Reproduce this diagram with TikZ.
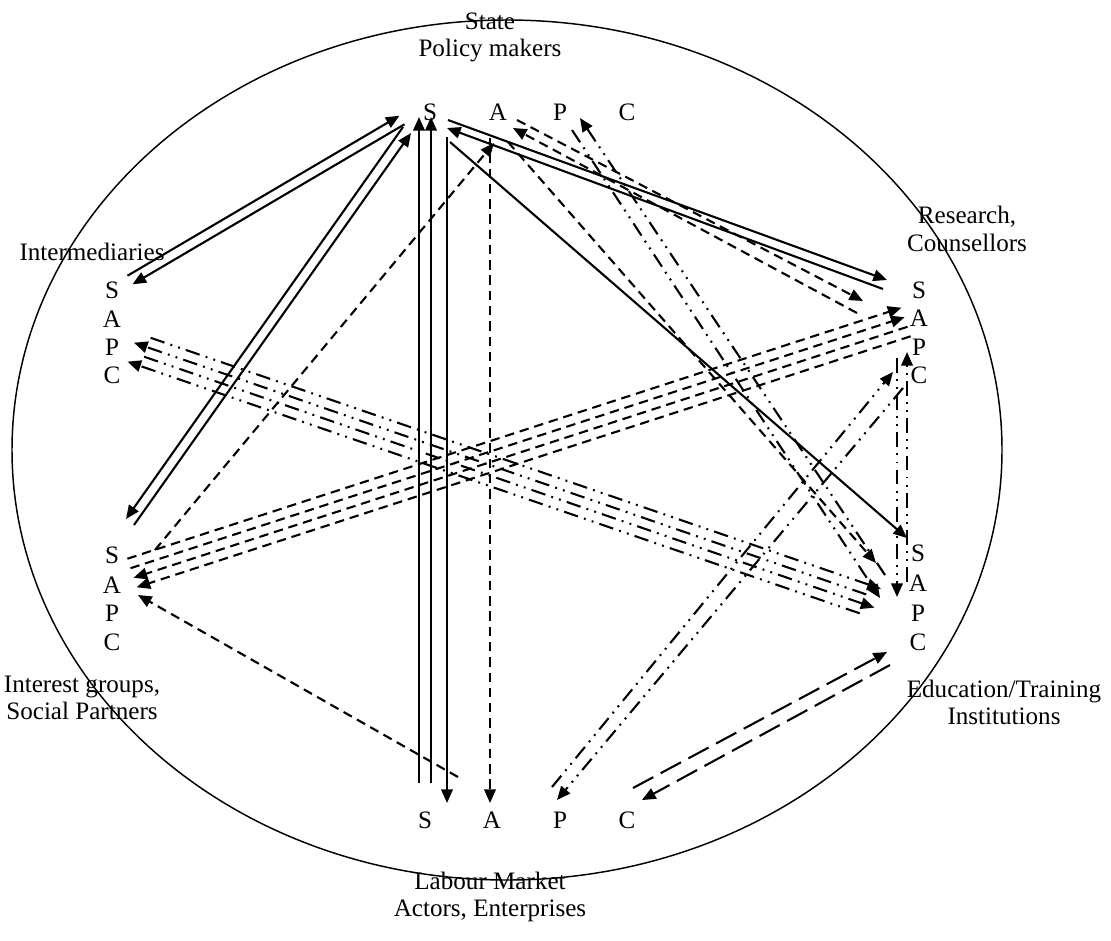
\documentclass[tikz,border=0pt]{standalone}
\usepackage{fontspec}
\setmainfont{Liberation Serif}
\usetikzlibrary{arrows.meta}
\tikzset{
	lt/.style={inner sep=0pt, font=\fontsize{12pt}{13pt}\selectfont},
	lbl/.style={inner sep=0pt, align=center, font=\fontsize{12pt}{13pt}\selectfont},
	con/.style={line width=1pt, -{Triangle[length=6.5pt,width=5.5pt]}},
	dsh/.style={dash pattern=on 4.5pt off 2.8pt},
	ldsh/.style={dash pattern=on 11pt off 4pt},
	ddot/.style={dash pattern=on 7pt off 3pt on 0.9pt off 3pt on 0.9pt off 3pt}
}

\begin{document}
\begin{tikzpicture}[x=0.0168cm, y=-0.0168cm]
		%%%%% START %%%%%
		\useasboundingbox (0,0) rectangle (1111,940);
		
		\draw[line width=0.7pt] (507,450) ellipse (495 and 430);
		
		\node[lbl] (state) at (490,37) {State\\Policy makers};
		\node[lbl] (inter) at (92,252) {Intermediaries};
		\node[lbl] (resch) at (967,229) {Research,\\Counsellors};
		\node[lbl] (group) at (82,698) {Interest groups,\\Social Partners};
		\node[lbl] (educ) at (1004,702) {Education/Training\\Institutions};
		\node[lbl] (labour) at (490,897) {Labour Market\\Actors, Enterprises};
		
		% S A P C of each actor
		\node[lt] (tS) at (430,112) {S};
		\node[lt] (tA) at (498,112) {A};
		\node[lt] (tP) at (560,112) {P};
		\node[lt] (tC) at (627,112) {C};
		
		\node[lt] (iS) at (112,290) {S};
		\node[lt] (iA) at (112,319) {A};
		\node[lt] (iP) at (112,347) {P};
		\node[lt] (iC) at (112,375) {C};
		
		\node[lt] (gS) at (112,555) {S};
		\node[lt] (gA) at (112,585) {A};
		\node[lt] (gP) at (112,613) {P};
		\node[lt] (gC) at (112,642) {C};
		
		\node[lt] (rS) at (919,290) {S};
		\node[lt] (rA) at (919,318) {A};
		\node[lt] (rP) at (919,347) {P};
		\node[lt] (rC) at (919,375) {C};
		
		\node[lt] (eS) at (918,553) {S};
		\node[lt] (eA) at (918,583) {A};
		\node[lt] (eP) at (918,613) {P};
		\node[lt] (eC) at (918,642) {C};
		
		\node[lt] (bS) at (425,820) {S};
		\node[lt] (bA) at (492,820) {A};
		\node[lt] (bP) at (560,820) {P};
		\node[lt] (bC) at (627,820) {C};
		
		% solid
		\draw[con] ([shift={(15.5,-14.3)}]iS.center) -- ([shift={(-30.5,3.7)}]tS.center);
		\draw[con] ([shift={(-25.5,12.3)}]tS.center) -- ([shift={(20.5,-5.7)}]iS.center);
		
		\draw[con] ([shift={(22,-30)}]gS.center) -- ([shift={(-19,21)}]tS.center);
		\draw[con] ([shift={(-27,15)}]tS.center) -- ([shift={(14,-36)}]gS.center);
		
		\draw[con] ([shift={(-6,-37)}]bS.center) -- ([shift={(-11,5)}]tS.center);
		\draw[con] ([shift={(6,-37)}]bS.center) -- ([shift={(1,5)}]tS.center);
		\draw[con] ([shift={(17,25)}]tS.center) -- ([shift={(22,-17)}]bS.center);
		
		\draw[con] ([shift={(18,8)}]tS.center) -- ([shift={(-32,-10)}]rS.center);
		\draw[con] ([shift={(-36,-1)}]rS.center) -- ([shift={(17,16)}]tS.center);
		
		\draw[con] ([shift={(20,30)}]tS.center) -- ([shift={(-11,-15)}]eS.center);
		
		% dashed
		\draw[con,dsh] ([shift={(19,8)}]tA.center) -- ([shift={(-56,11)}]rS.center);
		\draw[con,dsh] ([shift={(-62,23)}]rS.center) -- ([shift={(15,16)}]tA.center);
		\draw[con,dsh] ([shift={(10,30)}]tA.center) -- ([shift={(-42,-20)}]eA.center);
		\draw[con,dsh] ([shift={(-8,26)}]tA.center) -- ([shift={(-2,-17)}]bA.center);
		\draw[con,dsh] ([shift={(43,-5)}]gS.center) -- ([shift={(-4,31)}]tA.center);
		\draw[con,dsh] ([shift={(33,-43)}]bS.center) -- ([shift={(26,10)}]gA.center);
		
		\draw[con,dsh] ([shift={(15.4,-26.3)}]gA.center) -- ([shift={(-17.6,-10.3)}]rA.center);
		\draw[con,dsh] ([shift={(18.5,-16.8)}]gA.center) -- ([shift={(-14.5,-0.8)}]rA.center);
		\draw[con,dsh] ([shift={(-11.5,8.8)}]rA.center) -- ([shift={(21.5,-7.2)}]gA.center);
		\draw[con,dsh] ([shift={(-8.4,18.3)}]rA.center) -- ([shift={(24.6,2.3)}]gA.center);
		
		% dash dot dot
		\draw[con,ddot] ([shift={(38.6,-9.2)}]iP.center) -- ([shift={(-37.1,-24.2)}]eP.center);
		\draw[con,ddot] ([shift={(-51.8,-18.6)}]eP.center) -- ([shift={(22,-4.3)}]iP.center);
		\draw[con,ddot] ([shift={(32.1,9.7)}]iP.center) -- ([shift={(-43.6,-5.3)}]eP.center);
		\draw[con,ddot] ([shift={(-58.3,0.3)}]eP.center) -- ([shift={(15.5,-13.4)}]iC.center);
		
		\draw[con,ddot] ([shift={(12,18)}]tP.center) -- ([shift={(-38,15)}]eA.center);
		\draw[con,ddot] ([shift={(-33,-8)}]eA.center) -- ([shift={(20,6)}]tP.center);
		
		\draw[con,ddot] ([shift={(-22,-17)}]rC.center) -- ([shift={(-21,14)}]eA.center);
		\draw[con,ddot] ([shift={(-11,-1)}]eA.center) -- ([shift={(-12,-23)}]rC.center);
		
		\draw[con,ddot] ([shift={(-8,-33)}]bP.center) -- ([shift={(-26,-3)}]rC.center);
		\draw[con,ddot] ([shift={(-16,13)}]rC.center) -- ([shift={(-3,-20)}]bP.center);
		
		% long dashed
		\draw[con,ldsh] ([shift={(6,-32)}]bC.center) -- ([shift={(-31,10)}]eC.center);
		\draw[con,ldsh] ([shift={(-28,23)}]eC.center) -- ([shift={(15,-20)}]bC.center);
		%%%%% END %%%%%
	\end{tikzpicture}
\end{document}
